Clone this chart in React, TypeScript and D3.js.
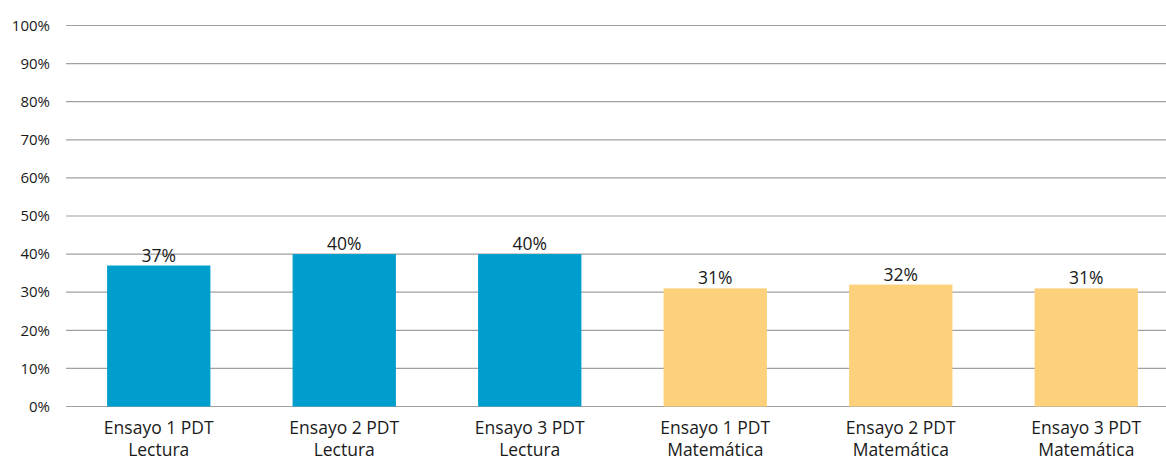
import React from "react";
import * as d3 from "d3";

const categories = [
  ["Ensayo 1 PDT", "Lectura"],
  ["Ensayo 2 PDT", "Lectura"],
  ["Ensayo 3 PDT", "Lectura"],
  ["Ensayo 1 PDT", "Matemática"],
  ["Ensayo 2 PDT", "Matemática"],
  ["Ensayo 3 PDT", "Matemática"],
];
const values = [37, 40, 40, 31, 32, 31];
const subjects = ["Lectura", "Lectura", "Lectura", "Matemática", "Matemática", "Matemática"];
const yTicks = [0, 10, 20, 30, 40, 50, 60, 70, 80, 90, 100];

export default function App() {
  const width = 1166;
  const height = 460;
  const left = 66;
  const top = 25.5;
  const bottom = 406.5;
  const font = "'Open Sans', 'Noto Sans', sans-serif";

  const keys = categories.map((c, i) => String(i));

  const xScale = d3
    .scaleBand()
    .domain(keys)
    .range([left, left + 1113])
    .paddingInner(0.443)
    .paddingOuter(0.2215);

  const yScale = d3.scaleLinear().domain([0, 100]).range([bottom, top]);

  const color = d3
    .scaleOrdinal<string, string>()
    .domain(["Lectura", "Matemática"])
    .range(["#009ecc", "#fdd17c"]);

  return (
    <svg
      width={width}
      height={height}
      style={{ position: "absolute", left: 0, top: 0 }}
    >
      <rect width={width} height={height} fill="#fff" />
      {yTicks.map((t) => (
        <g key={t}>
          <line
            x1={left}
            x2={width}
            y1={yScale(t)}
            y2={yScale(t)}
            stroke="#a0a0a0"
            strokeWidth={1.2}
          />
          <text
            x={50}
            y={yScale(t)}
            dy="0.35em"
            textAnchor="end"
            fontFamily={font}
            fontSize={15}
            fill="#1a1a1a"
          >
            {t}%
          </text>
        </g>
      ))}
      {values.map((v, i) => (
        <g key={i}>
          <rect
            x={xScale(keys[i])}
            y={yScale(v)}
            width={xScale.bandwidth()}
            height={yScale(0) - yScale(v)}
            fill={color(subjects[i])}
          />
          <text
            x={(xScale(keys[i]) as number) + xScale.bandwidth() / 2}
            y={yScale(v) - 4}
            textAnchor="middle"
            fontFamily={font}
            fontSize={17.5}
            fill="#1a1a1a"
          >
            {v}%
          </text>
          {categories[i].map((line, j) => (
            <text
              key={j}
              x={(xScale(keys[i]) as number) + xScale.bandwidth() / 2}
              y={434 + j * 22}
              textAnchor="middle"
              fontFamily={font}
              fontSize={17.5}
              fill="#1a1a1a"
            >
              {line}
            </text>
          ))}
        </g>
      ))}
    </svg>
  );
}
